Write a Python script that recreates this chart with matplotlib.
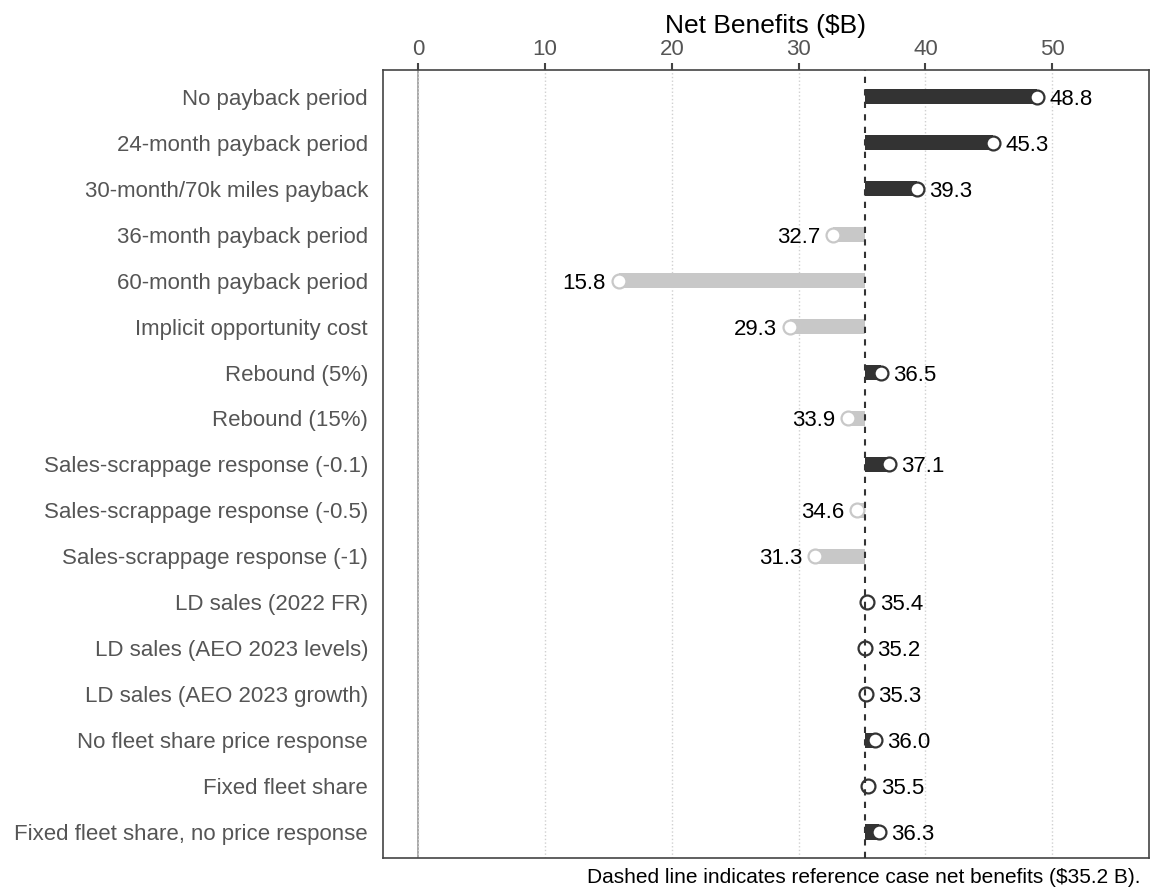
import numpy as np
import matplotlib.pyplot as plt

plt.rcParams['font.family'] = ['Liberation Sans', 'DejaVu Sans']

# sensitivity cases, top to bottom
cases = ["No payback period", "24-month payback period", "30-month/70k miles payback",
         "36-month payback period", "60-month payback period", "Implicit opportunity cost",
         "Rebound (5%)", "Rebound (15%)", "Sales-scrappage response (-0.1)",
         "Sales-scrappage response (-0.5)", "Sales-scrappage response (-1)",
         "LD sales (2022 FR)", "LD sales (AEO 2023 levels)", "LD sales (AEO 2023 growth)",
         "No fleet share price response", "Fixed fleet share",
         "Fixed fleet share, no price response"]
net_benefits = [48.8, 45.3, 39.3, 32.7, 15.8, 29.3, 36.5, 33.9, 37.1, 34.6, 31.3,
                35.4, 35.2, 35.3, 36.0, 35.5, 36.3]
reference = 35.2

dark = "#333333"
light = "#c8c8c8"

fig, ax = plt.subplots(figsize=(11.51, 8.94), dpi=100)
fig.subplots_adjust(left=0.333, right=0.998, top=0.922, bottom=0.04)

y = np.arange(len(cases))
vals = np.array(net_benefits)
cols = [dark if v >= reference else light for v in vals]

# bars from the reference value to the case value
ax.barh(y, vals - reference, left=reference, height=0.33, color=cols, zorder=3)
for yi, v, c in zip(y, vals, cols):
    ax.plot(v, yi, 'o', ms=10, mfc='white', mec=c, mew=1.6, zorder=4)
    if v >= reference:
        ax.annotate(f"{v:.1f}", (v, yi), xytext=(9, 0), textcoords='offset points',
                    ha='left', va='center_baseline', fontsize=16, color='black')
    else:
        ax.annotate(f"{v:.1f}", (v, yi), xytext=(-9, 0), textcoords='offset points',
                    ha='right', va='center_baseline', fontsize=16, color='black')

ax.axvline(reference, color='#333333', ls=(0, (3, 3)), lw=1.5, zorder=5)
ax.axvline(0, color='#999999', lw=1.2, zorder=1)

ax.set_xlim(-2.75, 57.6)
ax.set_ylim(len(cases) - 0.43, -0.59)
ax.set_xticks([0, 10, 20, 30, 40, 50])
ax.xaxis.tick_top()
ax.xaxis.set_label_position('top')
ax.set_xlabel("Net Benefits ($B)", fontsize=19, labelpad=4)
ax.tick_params(axis='x', labelsize=16, labelcolor='#555555', length=5, width=1.5, color='#444444', pad=2)
ax.tick_params(axis='y', length=0, labelsize=16, labelcolor='#555555', pad=11)
ax.set_yticks(y)
ax.set_yticklabels(cases)
ax.grid(axis='x', color='#d0d0d0', ls=':', lw=1, zorder=0)
for s in ax.spines.values():
    s.set_color('#444444')
    s.set_linewidth(1.2)

fig.text(0.991, 0.008, "Dashed line indicates reference case net benefits ($35.2 B).",
         ha='right', va='bottom', fontsize=15)

fig.savefig("out.png", dpi=100)
